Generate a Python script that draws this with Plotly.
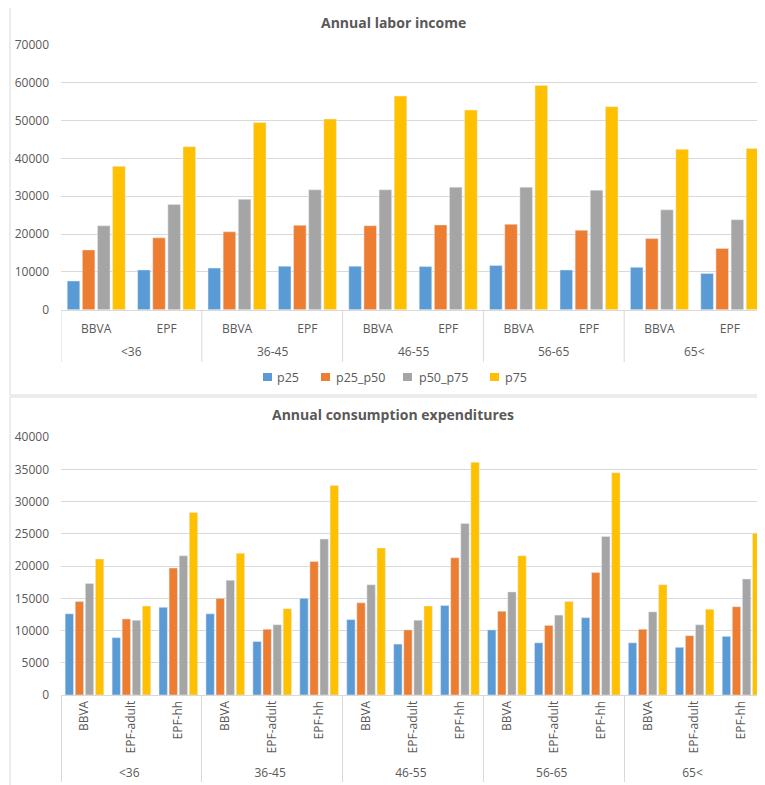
import plotly.graph_objects as go

# age groups and sources
ages = ["<36", "36-45", "46-55", "56-65", "65<"]
inc_src = ["BBVA", "EPF"]
cons_src = ["BBVA", "EPF-adult", "EPF-hh"]
series = ["p25", "p25_p50", "p50_p75", "p75"]
colors = ["#5B9BD5", "#ED7D31", "#A5A5A5", "#FFC000"]

# Annual labor income (order: <36 BBVA, <36 EPF, 36-45 BBVA, ...)
inc_p25 = [7600, 10500, 11000, 11500, 11500, 11400, 11700, 10500, 11200, 9600]
inc_p25_p50 = [15800, 19000, 20600, 22300, 22200, 22400, 22600, 21000, 18800, 16200]
inc_p50_p75 = [22200, 27800, 29200, 31700, 31700, 32400, 32400, 31600, 26400, 23800]
inc_p75 = [37900, 43100, 49500, 50400, 56500, 52800, 59300, 53700, 42400, 42600]

# Annual consumption expenditures (BBVA, EPF-adult, EPF-hh per age group)
cons_p25 = [12600, 8900, 13600, 12600, 8300, 15000, 11700, 7900, 13900,
            10100, 8100, 12000, 8100, 7400, 9100]
cons_p25_p50 = [14500, 11800, 19700, 15000, 10200, 20700, 14300, 10100, 21300,
                13000, 10800, 19000, 10200, 9200, 13700]
cons_p50_p75 = [17300, 11600, 21600, 17800, 10900, 24200, 17100, 11600, 26600,
                16000, 12400, 24600, 12900, 10900, 18000]
cons_p75 = [21100, 13800, 28300, 22000, 13400, 32500, 22800, 13800, 36100,
            21600, 14500, 34500, 17100, 13300, 25100]

inc_vals = [inc_p25, inc_p25_p50, inc_p50_p75, inc_p75]
cons_vals = [cons_p25, cons_p25_p50, cons_p50_p75, cons_p75]

# top chart: flat category keys, group labels drawn as annotations
inc_keys = [a + "|" + s for a in ages for s in inc_src]
inc_lbl = [s for a in ages for s in inc_src]
cons_x = [[a for a in ages for s in cons_src], [s for a in ages for s in cons_src]]

fig = go.Figure()
for name, col, v in zip(series, colors, inc_vals):
    fig.add_trace(go.Bar(x=inc_keys, y=v, name=name, marker_color=col,
                         xaxis="x", yaxis="y", showlegend=False))
for name, col, v in zip(series, colors, cons_vals):
    fig.add_trace(go.Bar(x=cons_x, y=v, name=name, marker_color=col,
                         xaxis="x2", yaxis="y2", showlegend=False))

txt = "#595959"
grid = "#D9D9D9"
yax = dict(showgrid=True, gridcolor=grid, zeroline=False, showline=False,
           tickfont=dict(size=12, color=txt), ticks="", tickformat="d",
           ticklabelstandoff=11)

n_src = len(inc_src)
annots = []
shapes = []
for i, a in enumerate(ages):
    annots.append(dict(text=a, x=i * n_src + (n_src - 1) / 2, xref="x", y=0.5277, yref="paper",
                       showarrow=False, xanchor="center", yanchor="middle",
                       font=dict(size=12, color=txt)))
for i in range(len(ages) + 1):
    xd = i * n_src - 0.5
    shapes.append(dict(type="line", xref="x", yref="paper", x0=xd, x1=xd, y0=0.5928, y1=0.5123,
                       line=dict(color=grid, width=1)))

# hand-placed legend (Excel style, tight spacing)
leg_sq = [263, 321, 403, 490]
leg_tx = [275, 334, 417, 503]
for name, col, sx, tx in zip(series, colors, leg_sq, leg_tx):
    shapes.append(dict(type="rect", xref="paper", yref="paper",
                       x0=(sx - 61) / 704, x1=(sx + 9 - 61) / 704, y0=0.4831, y1=0.4954,
                       line=dict(width=0), fillcolor=col))
    annots.append(dict(text=name, x=(tx - 61) / 704, y=0.4892, xref="paper", yref="paper",
                       showarrow=False, xanchor="left", yanchor="middle",
                       font=dict(size=12.5, color=txt)))

annots += [
    dict(text="<b>Annual labor income</b>", x=0.4716, y=1.035, xref="paper", yref="paper",
         xanchor="center", yanchor="middle", showarrow=False, font=dict(size=14, color=txt)),
    dict(text="<b>Annual consumption expenditures</b>", x=0.4716, y=0.432, xref="paper",
         yref="paper", xanchor="center", yanchor="middle", showarrow=False,
         font=dict(size=14, color=txt)),
]
shapes += [
    dict(type="rect", xref="paper", yref="paper", x0=-0.0724, x1=1.05, y0=0.4615, y1=1.2,
         line=dict(color=grid, width=1)),
    dict(type="rect", xref="paper", yref="paper", x0=-0.0724, x1=1.05, y0=-0.2, y1=0.4585,
         line=dict(color=grid, width=1)),
]

# page body has an 8px margin, so the figure is 8px smaller than the window
fig.update_layout(
    width=757, height=777,
    margin=dict(l=53, r=0, t=37, b=90),
    paper_bgcolor="white", plot_bgcolor="white",
    font=dict(family="Open Sans", color=txt),
    barmode="group", bargap=0.14, bargroupgap=0.17,
    showlegend=False,
    xaxis=dict(domain=[0, 1], anchor="y", type="category", showgrid=False, showline=True,
               linecolor=grid, ticks="", tickvals=inc_keys, ticktext=inc_lbl,
               tickfont=dict(size=12, color=txt), ticklabelstandoff=8,
               range=[-0.5, len(inc_keys) - 0.5]),
    yaxis=dict(yax, domain=[0.5928, 1.0], range=[0, 70000], dtick=10000),
    xaxis2=dict(domain=[0, 1], anchor="y2", showgrid=False, showline=True, linecolor=grid,
                ticks="", tickfont=dict(size=12, color=txt), showdividers=True,
                dividercolor=grid, dividerwidth=1, tickangle=-90),
    yaxis2=dict(yax, domain=[0.0, 0.3966], range=[0, 40000], dtick=5000),
    annotations=annots,
    shapes=shapes,
)

fig.write_html("out.html")
